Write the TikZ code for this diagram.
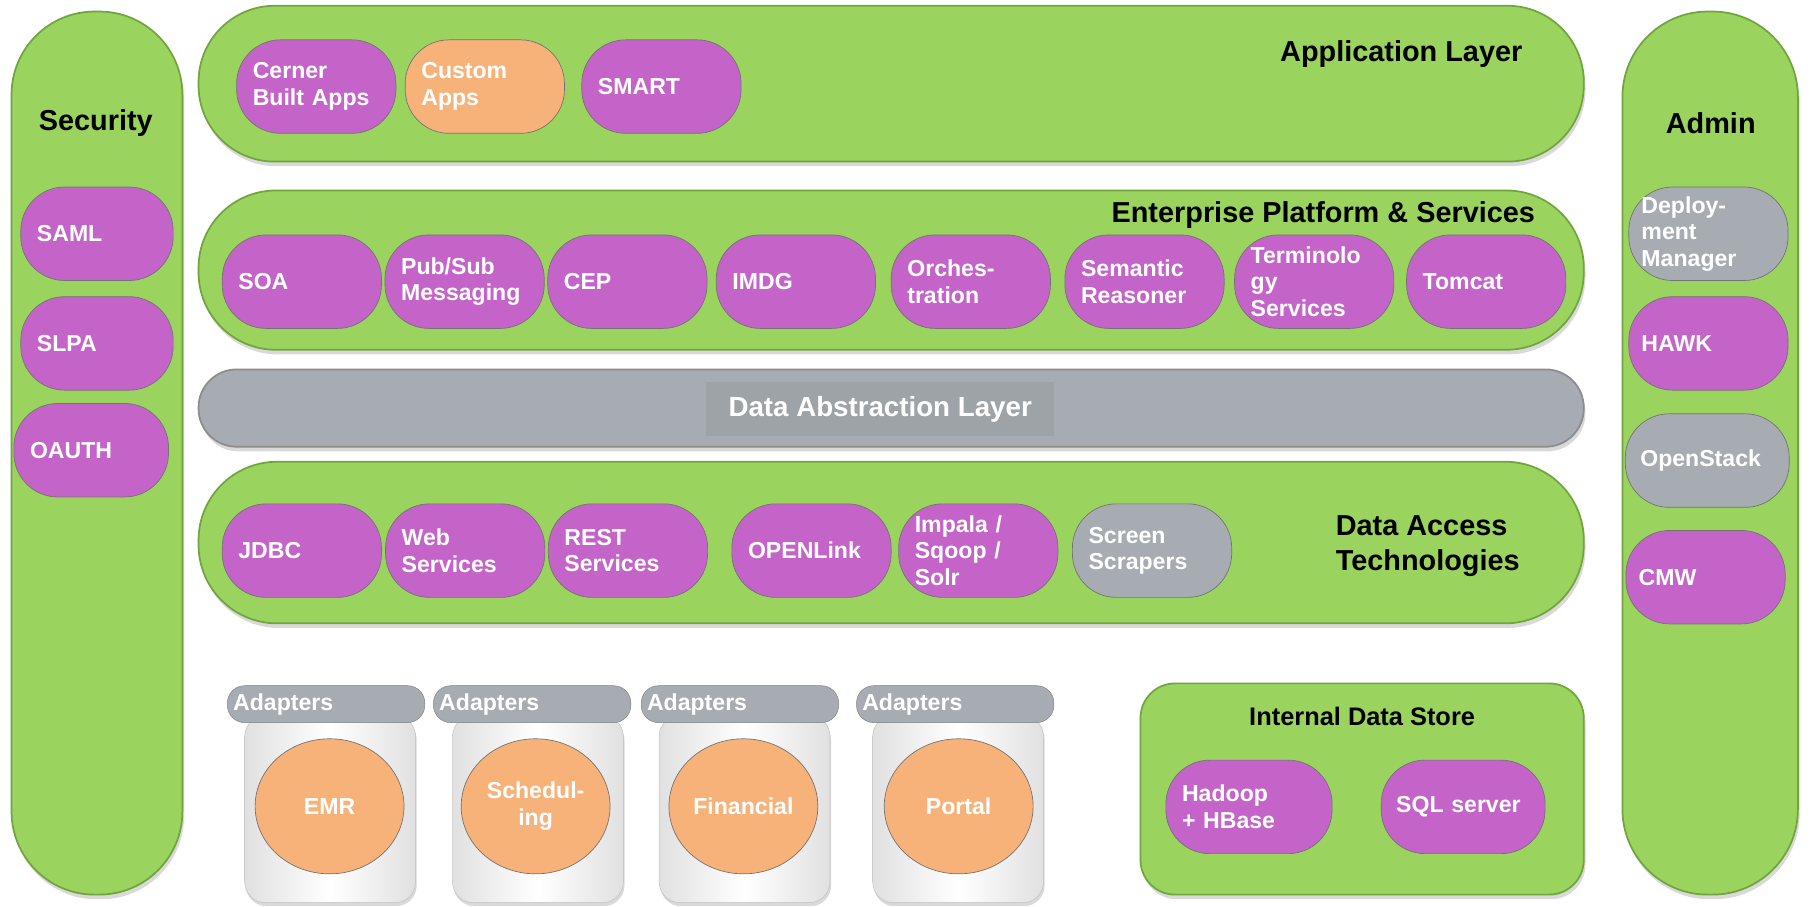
\documentclass[tikz,border=0pt]{standalone}
\usepackage{fontspec}
\setmainfont{Liberation Sans}
\usetikzlibrary{shapes.geometric,shadows}

\definecolor{layergreen}{RGB}{155,211,95}
\definecolor{layeredge}{RGB}{112,165,62}
\definecolor{pillpurple}{RGB}{196,100,200}
\definecolor{pillorange}{RGB}{247,178,122}
\definecolor{pillgray}{RGB}{166,172,178}
\definecolor{dalgray}{RGB}{158,163,168}

\newcommand{\pilltext}{\fontsize{20}{23}\selectfont\bfseries}
\newcommand{\titletext}{\fontsize{25}{30}\selectfont\bfseries}

\begin{document}
\begin{tikzpicture}[x=1pt, y=-1pt,
	layer/.style={fill=layergreen, draw=layeredge, line width=1.5pt, inner sep=0pt, drop shadow={shadow xshift=1.5pt, shadow yshift=-4pt, opacity=0.3}},
	pill/.style={rounded corners=38pt, draw=black!55, line width=0.6pt, text=white, font=\pilltext, align=left, inner xsep=13pt, text width=110pt, minimum width=138pt, minimum height=81pt},
	purple/.style={pill, fill=pillpurple},
	orange/.style={pill, fill=pillorange},
	grey/.style={pill, fill=pillgray},
	title/.style={font=\titletext, inner sep=0pt},
	tab/.style={fill=pillgray, draw=black!50, rounded corners=15pt, minimum width=171pt, minimum height=32pt, text=white, font=\pilltext, inner xsep=5pt, text width=161pt, align=left},
	jar/.style={draw=black!25, rounded corners=18pt, minimum width=148pt, minimum height=162pt, left color=black!12, right color=black!12, middle color=white, drop shadow={shadow xshift=1pt, shadow yshift=-3pt, opacity=0.3}},
	source/.style={ellipse, fill=pillorange, draw=black!55, line width=0.6pt, minimum width=129pt, minimum height=117pt, text=white, font=\pilltext, align=center, inner sep=0pt}]

	\useasboundingbox (0,0) rectangle (1568,785);

	% side columns and layers
	\node (Security) [layer, rounded corners=72pt, minimum width=148pt, minimum height=765pt] at (84,392.5) {};
	\node (Admin) [layer, rounded corners=74pt, minimum width=152pt, minimum height=765pt] at (1481.5,392.5) {};
	\node (AppLayer) [layer, rounded corners=66pt, minimum width=1200pt, minimum height=135pt] at (772,72.5) {};
	\node (Platform) [layer, rounded corners=67pt, minimum width=1200pt, minimum height=138pt] at (772,234) {};
	\node (DAL) [layer, fill=pillgray, draw=black!45, rounded corners=33pt, minimum width=1200pt, minimum height=67pt] at (772,353.5) {};
	\node (Access) [layer, rounded corners=68pt, minimum width=1200pt, minimum height=140pt] at (772,470) {};
	\node (Store) [layer, rounded corners=30pt, minimum width=384pt, minimum height=183pt] at (1180,683.5) {};

	% titles
	\node (SecurityTitle) [title] at (83,107) {Security};
	\node (AdminTitle) [title] at (1482,107) {Admin};
	\node (AppTitle) [title, anchor=base east] at (1319,53) {Application Layer};
	\node (PlatformTitle) [title, anchor=base east] at (1330,193) {Enterprise Platform \& Services};
	\node (AccessTitle) [title, anchor=west, align=left] at (1157,473) {Data Access\\Technologies};
	\node (StoreTitle) [title, font=\fontsize{22}{26}\selectfont\bfseries] at (1180,621) {Internal Data Store};
	\node (DALTitle) [fill=dalgray, text=white, font=\fontsize{24}{28}\selectfont\bfseries, minimum width=301pt, minimum height=47pt] at (762.5,354.5) {Data Abstraction Layer};

	% application layer
	\node (Cerner) [purple] at (274,75) {Cerner\\Built Apps};
	\node (Custom) [orange] at (420,75) {Custom\\Apps};
	\node (Smart) [purple] at (573,75) {SMART};

	% enterprise platform
	\node (Soa) [purple] at (261.5,244) {SOA};
	\node (PubSub) [purple] at (402.5,244) {Pub/Sub\\Messaging};
	\node (Cep) [purple] at (543.5,244) {CEP};
	\node (Imdg) [purple] at (689.5,244) {IMDG};
	\node (Orch) [purple] at (841,244) {Orches-\\tration};
	\node (Semantic) [purple] at (991.5,244) {Semantic\\Reasoner};
	\node (Term) [purple] at (1138.5,244) {Terminolo\\gy\\Services};
	\node (Tomcat) [purple] at (1287.5,244) {Tomcat};

	% data access
	\node (Jdbc) [purple] at (261.5,477) {JDBC};
	\node (WebSvc) [purple] at (403,477) {Web\\Services};
	\node (RestSvc) [purple] at (544,477) {REST\\Services};
	\node (OpenLink) [purple] at (703,477) {OPENLink};
	\node (Impala) [purple] at (847.5,477) {Impala /\\Sqoop /\\Solr};
	\node (Scrapers) [grey] at (998,477) {Screen\\Scrapers};

	% security
	\node (Saml) [purple, minimum width=132pt, text width=104pt, inner xsep=10pt] at (84,202.5) {SAML};
	\node (Slpa) [purple, minimum width=132pt, text width=104pt, inner xsep=10pt] at (84,297.5) {SLPA};
	\node (Oauth) [purple, minimum width=134pt, text width=106pt, inner xsep=10pt] at (79,390) {OAUTH};

	% admin
	\node (Deploy) [grey, text width=116pt, inner xsep=11pt] at (1480,202.5) {Deploy-\\ment\\Manager};
	\node (Hawk) [purple, inner xsep=11pt, text width=116pt] at (1480,297.5) {HAWK};
	\node (OpenStack) [grey, inner xsep=13pt, text width=116pt, minimum width=142pt] at (1479,399) {OpenStack};
	\node (Cmw) [purple, inner xsep=11pt, text width=116pt] at (1477.5,500) {CMW};

	% internal data store
	\node (Hadoop) [purple, minimum width=144pt, text width=116pt] at (1082,699) {Hadoop\\+ HBase};
	\node (Sql) [purple, minimum width=141pt, text width=116pt] at (1267.5,699) {SQL server};

	% adapters
	\foreach \cx/\jx/\name/\label in {285.5/286/Emr/EMR, 464/466/Sched/Schedul-\\ing, 644/645/Fin/Financial, 830.5/830/Portal/Portal} {
		\node (\name Jar) [jar] at (\jx,701) {};
		\node (\name Tab) [tab] at (\cx-3,610) {Adapters};
		\node (\name) [source] at (\cx,698.5) {\label};
	}
\end{tikzpicture}
\end{document}
